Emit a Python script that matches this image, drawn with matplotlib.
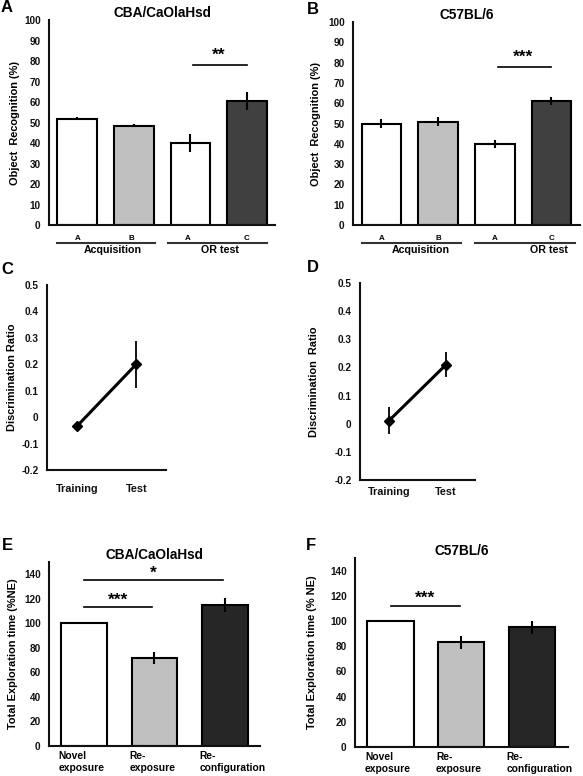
import matplotlib.pyplot as plt
import matplotlib.transforms as mtransforms

plt.rcParams['font.family'] = ['Liberation Sans', 'DejaVu Sans']
plt.rcParams['font.weight'] = 'bold'

# panels A/B: object recognition (%)
or_objects = ["A", "B", "A", "C"]
or_groups = ["Acquisition", "OR test"]
cba_or = [52, 48.5, 40, 60.5]
cba_or_err = [0.7, 0.7, 4.5, 4.5]
c57_or = [50, 51, 40, 61]
c57_or_err = [2, 2, 2, 2]
or_colors = ["white", "#c0c0c0", "white", "#404040"]

# panels C/D: discrimination ratio
dr_labels = ["Training", "Test"]
cba_dr = [-0.035, 0.2]
cba_dr_err = [0.01, 0.09]
c57_dr = [0.01, 0.21]
c57_dr_err = [0.048, 0.045]

# panels E/F: total exploration time
te_labels = ["Novel\nexposure", "Re-\nexposure", "Re-\nconfiguration"]
cba_te = [100, 72, 115]
cba_te_err = [0, 5, 6]
c57_te = [100, 83, 95]
c57_te_err = [0, 5, 5]
te_colors = ["white", "#c0c0c0", "#262626"]

TICK = 7.2
LAB = 7.9
TTL = 9.8
STAR = 12.5

fig = plt.figure(figsize=(5.83, 7.76), dpi=100)


def style(ax, ylabel, pad=6):
    for s in ["top", "right"]:
        ax.spines[s].set_visible(False)
    for s in ["left", "bottom"]:
        ax.spines[s].set_linewidth(1.5)
        ax.spines[s].set_color("#111111")
    ax.tick_params(axis="both", length=0, labelsize=TICK, pad=pad, colors="#111111")
    ax.set_ylabel(ylabel, fontsize=LAB, fontweight="bold")


def or_panel(rect, vals, errs, title, ylabel, sig, sig_y, lbl_x, grp_lines, grp_x, ylab_x):
    ax = fig.add_axes(rect)
    x = range(len(vals))
    ax.bar(x, vals, width=0.7, color=or_colors, edgecolor="black", linewidth=1.5)
    ax.errorbar(x, vals, yerr=errs, fmt="none", ecolor="black", elinewidth=1.5, capsize=0)
    ax.set_xlim(-0.5, 3.5)
    ax.set_ylim(0, 100)
    ax.set_yticks(range(0, 101, 10))
    ax.set_xticks([])
    style(ax, ylabel)
    ax.yaxis.set_label_coords(ylab_x, 0.5)
    ax.set_title(title, fontsize=TTL, fontweight="bold", pad=2)
    ax.plot([2.05, 3.0], [sig_y, sig_y], color="black", lw=1.2)
    ax.text(2.5, sig_y + 1, sig, ha="center", va="bottom", fontsize=STAR, fontweight="bold")
    tr = mtransforms.blended_transform_factory(ax.transData, ax.transAxes)
    for (x0, x1) in grp_lines:
        ax.plot([x0, x1], [-0.088, -0.088], color="#333333", lw=1.5, transform=tr, clip_on=False)
    for i, o in enumerate(or_objects):
        ax.text(lbl_x[i], -0.084, o, ha="center", va="bottom", fontsize=5.8, transform=tr)
    for g, gx in zip(or_groups, grp_x):
        ax.text(gx, -0.097, g, ha="center", va="top", fontsize=TICK + 0.5, transform=tr)
    return ax


or_panel([0.084, 0.710, 0.388, 0.264], cba_or, cba_or_err, "CBA/CaOlaHsd",
         "Object  Recognition (%)", "**", 78, [0, 0.95, 1.95, 3.0],
         [(-0.35, 1.37), (1.6, 3.35)], [0.63, 2.53], -0.13)
or_panel([0.6055, 0.710, 0.389, 0.2616], c57_or, c57_or_err, "C57BL/6",
         "Object  Recognition (%)", "***", 78, [0, 1.0, 2.0, 3.0],
         [(-0.35, 1.4), (1.65, 3.42)], [0.7, 2.95], -0.14)


def dr_panel(rect, vals, errs, ylabel, xpad, ylab_x):
    ax = fig.add_axes(rect)
    x = range(len(vals))
    ax.errorbar(x, vals, yerr=errs, color="black", lw=2.2, marker="D", markersize=5,
                ecolor="black", elinewidth=1.3, capsize=0)
    ax.set_xlim(-0.5, 1.5)
    ax.set_ylim(-0.2, 0.5)
    ax.set_yticks([-0.2, -0.1, 0, 0.1, 0.2, 0.3, 0.4, 0.5])
    ax.set_yticklabels(["-0.2", "-0.1", "0", "0.1", "0.2", "0.3", "0.4", "0.5"])
    ax.set_xticks(list(x))
    ax.set_xticklabels(dr_labels)
    style(ax, ylabel)
    ax.tick_params(axis="x", pad=xpad, labelsize=TICK + 0.6)
    ax.yaxis.set_label_coords(ylab_x, 0.5)
    return ax


dr_panel([0.0806, 0.3943, 0.204, 0.2384], cba_dr, cba_dr_err, "Discrimination Ratio", 10, -0.25)
dr_panel([0.6175, 0.3814, 0.197, 0.254], c57_dr, c57_dr_err, "Discrimination  Ratio", 5, -0.36)


def te_panel(rect, vals, errs, title, ylabel, sigs, ylab_x):
    ax = fig.add_axes(rect)
    x = range(len(vals))
    ax.bar(x, vals, width=0.65, color=te_colors, edgecolor="black", linewidth=1.5)
    ax.errorbar(x, vals, yerr=errs, fmt="none", ecolor="black", elinewidth=1.5, capsize=0)
    ax.set_xlim(-0.5, 2.5)
    ax.set_ylim(0, 150)
    ax.set_yticks(range(0, 141, 20))
    ax.set_xticks([])
    style(ax, ylabel)
    ax.yaxis.set_label_coords(ylab_x, 0.5)
    ax.set_title(title, fontsize=TTL, fontweight="bold", pad=2)
    for (x0, x1, y, s) in sigs:
        ax.plot([x0, x1], [y, y], color="black", lw=1.2)
        ax.text((x0 + x1) / 2, y, s, ha="center", va="bottom", fontsize=STAR, fontweight="bold")
    tr = mtransforms.blended_transform_factory(ax.transData, ax.transAxes)
    for i, lab in enumerate(te_labels):
        ax.text(i - 0.36, -0.025, lab, ha="left", va="top", fontsize=TICK + 0.2,
                linespacing=1.3, transform=tr)
    return ax


te_panel([0.084, 0.0387, 0.362, 0.237], cba_te, cba_te_err, "CBA/CaOlaHsd",
         "Total Exploration time (%NE)", [(0, 0.97, 113, "***"), (0, 1.97, 135, "*")], -0.145)
te_panel([0.609, 0.0374, 0.365, 0.2436], c57_te, c57_te_err, "C57BL/6",
         "Total Exploration time (% NE)", [(0, 0.98, 112, "***")], -0.18)

# panel letters
for lx, ly, L in [(7, 8, "A"), (313, 9, "B"), (7, 269, "C"), (313, 268, "D"),
                  (7, 546, "E"), (311, 546, "F")]:
    fig.text(lx / 583, 1 - ly / 776, L, ha="center", va="center", fontsize=12, fontweight="bold")

fig.savefig("out.png", dpi=100)
